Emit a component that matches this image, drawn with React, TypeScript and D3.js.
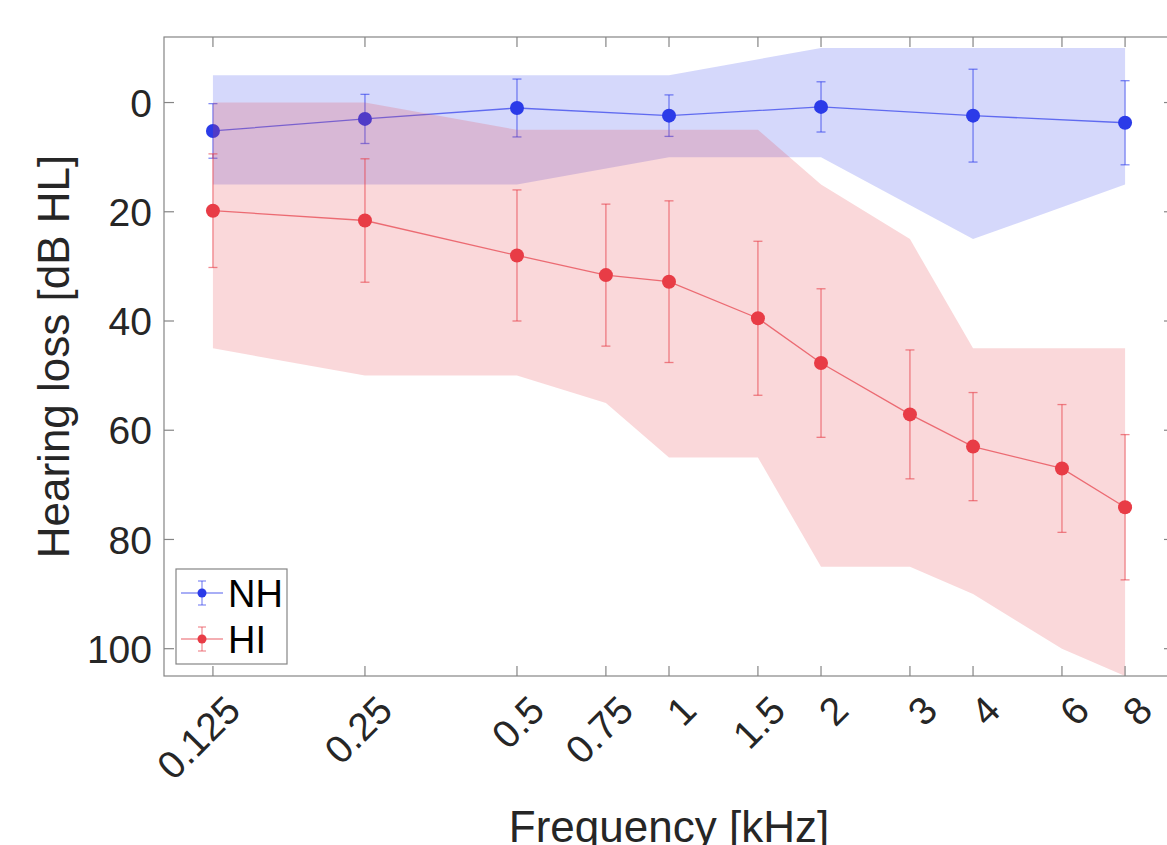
import React from "react";
import * as d3 from "d3";

const xTicks = [0.125, 0.25, 0.5, 0.75, 1, 1.5, 2, 3, 4, 6, 8];
const xTickLabels = ["0.125", "0.25", "0.5", "0.75", "1", "1.5", "2", "3", "4", "6", "8"];
const yTicks = [0, 20, 40, 60, 80, 100];

const nhFreqs = [0.125, 0.25, 0.5, 1, 2, 4, 8];
const nhMean = [5.2, 3.0, 1.0, 2.4, 0.8, 2.4, 3.7];
const nhErr = [5.0, 4.5, 5.3, 3.8, 4.6, 8.5, 7.7];
const nhBandTop = [-5, -5, -5, -5, -10, -10, -10];
const nhBandBottom = [15, 15, 15, 10, 10, 25, 15];

const hiFreqs = [0.125, 0.25, 0.5, 0.75, 1, 1.5, 2, 3, 4, 6, 8];
const hiMean = [19.8, 21.6, 28.0, 31.6, 32.8, 39.5, 47.7, 57.1, 63.0, 67.0, 74.1];
const hiErr = [10.4, 11.3, 12.0, 13.0, 14.8, 14.1, 13.6, 11.8, 9.9, 11.7, 13.3];
const hiBandTop = [0, 0, 5, 5, 5, 5, 15, 25, 45, 45, 45];
const hiBandBottom = [45, 50, 50, 55, 65, 65, 85, 85, 90, 100, 105];

const W = 1167, H = 845;
const L = 164, T = 37, R = 1174, B = 676;
const FONT = "'Liberation Sans', Arial, Helvetica, sans-serif";
const AX = "#858585";
const TXT = "#262626";

const BLUE = "#2b3be8";
const BLUE_BASE = "rgb(45,60,235)";
const RED = "#e83c46";
const RED_BASE = "rgb(230,60,70)";

export default function App() {
  const x = d3.scaleLog().domain([0.1, 10]).range([L, R]);
  const y = d3.scaleLinear().domain([-12, 105]).range([T, B]);

  const area = (fs: number[], top: number[], bot: number[]) =>
    d3.area<number>()
      .x((_, i) => x(fs[i]))
      .y0((_, i) => y(top[i]))
      .y1((_, i) => y(bot[i]))(fs.map((_, i) => i)) || "";
  const line = (fs: number[], m: number[]) =>
    d3.line<number>().x((_, i) => x(fs[i])).y((_, i) => y(m[i]))(fs.map((_, i) => i)) || "";

  const series = (fs: number[], m: number[], e: number[], col: string, base: string, key: string) => (
    <g key={key}>
      {fs.map((f, i) => (
        <g key={i} stroke={base} strokeOpacity={0.6} strokeWidth={1.3}>
          <line x1={x(f)} x2={x(f)} y1={y(m[i] - e[i])} y2={y(m[i] + e[i])} />
          <line x1={x(f) - 4.5} x2={x(f) + 4.5} y1={y(m[i] - e[i])} y2={y(m[i] - e[i])} />
          <line x1={x(f) - 4.5} x2={x(f) + 4.5} y1={y(m[i] + e[i])} y2={y(m[i] + e[i])} />
        </g>
      ))}
      <path d={line(fs, m)} fill="none" stroke={base} strokeOpacity={0.7} strokeWidth={1.3} />
      {fs.map((f, i) => (
        <circle key={i} cx={x(f)} cy={y(m[i])} r={7} fill={col} />
      ))}
    </g>
  );

  const legendEntry = (yy: number, col: string, base: string, label: string) => (
    <g>
      <line x1={181} x2={223} y1={yy} y2={yy} stroke={base} strokeOpacity={0.55} strokeWidth={1.3} />
      <g stroke={base} strokeOpacity={0.6} strokeWidth={1.2}>
        <line x1={202} x2={202} y1={yy - 12} y2={yy + 12} />
        <line x1={198} x2={206} y1={yy - 12} y2={yy - 12} />
        <line x1={198} x2={206} y1={yy + 12} y2={yy + 12} />
      </g>
      <circle cx={202} cy={yy} r={4.5} fill={col} />
      <text x={228} y={yy} dy="0.36em" fontSize={38} fill="#000" fontFamily={FONT}>{label}</text>
    </g>
  );

  return (
    <div style={{ position: "absolute", left: 0, top: 0 }}>
      <svg width={W} height={H} style={{ display: "block", background: "#fff" }}>
        <defs>
          <clipPath id="plot">
            <rect x={L} y={T} width={R - L} height={B - T} />
          </clipPath>
        </defs>
        <g clipPath="url(#plot)">
          <path d={area(nhFreqs, nhBandTop, nhBandBottom)} fill={BLUE_BASE} fillOpacity={0.2} />
          {series(nhFreqs, nhMean, nhErr, BLUE, BLUE_BASE, "nh")}
          <path d={area(hiFreqs, hiBandTop, hiBandBottom)} fill={RED_BASE} fillOpacity={0.2} />
          {series(hiFreqs, hiMean, hiErr, RED, RED_BASE, "hi")}
        </g>
        {/* axes box */}
        <rect x={L} y={T} width={R - L} height={B - T} fill="none" stroke={AX} strokeWidth={1.2} />
        {xTicks.map((t, i) => (
          <g key={"xt" + i}>
            <line x1={x(t)} x2={x(t)} y1={B} y2={B - 10} stroke={AX} strokeWidth={1.2} />
            <line x1={x(t)} x2={x(t)} y1={T} y2={T + 10} stroke={AX} strokeWidth={1.2} />
            <text
              transform={`translate(${x(t) + 20},${B + 27}) rotate(-45)`}
              textAnchor="end" dy="0.35em" fontSize={39} fill={TXT} fontFamily={FONT}
            >{xTickLabels[i]}</text>
          </g>
        ))}
        {yTicks.map((t, i) => (
          <g key={"yt" + i}>
            <line x1={L} x2={L + 10} y1={y(t)} y2={y(t)} stroke={AX} strokeWidth={1.2} />
            <line x1={R} x2={R - 10} y1={y(t)} y2={y(t)} stroke={AX} strokeWidth={1.2} />
            <text x={152} y={y(t)} dy="0.36em" textAnchor="end" fontSize={39} fill={TXT} fontFamily={FONT}>{t}</text>
          </g>
        ))}
        <text transform={`translate(69,${(T + B) / 2}) rotate(-90)`} textAnchor="middle" fontSize={44} fill={TXT} fontFamily={FONT}>
          Hearing loss [dB HL]
        </text>
        <text x={(L + R) / 2} y={842} textAnchor="middle" fontSize={44} fill={TXT} fontFamily={FONT}>
          Frequency [kHz]
        </text>
        {/* legend */}
        <rect x={176} y={569} width={111} height={95} fill="#fff" stroke={AX} strokeWidth={1.2} />
        {legendEntry(593, BLUE, BLUE_BASE, "NH")}
        {legendEntry(639, RED, RED_BASE, "HI")}
      </svg>
    </div>
  );
}
